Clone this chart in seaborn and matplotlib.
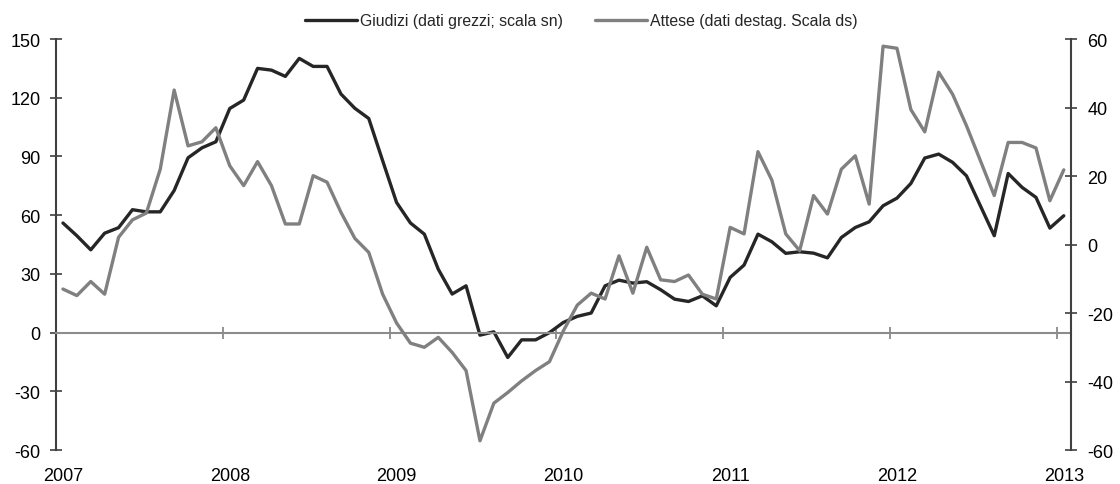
import numpy as np
import pandas as pd
import seaborn as sns
import matplotlib.pyplot as plt

# monthly series, Jan 2007 - Jan 2013
anni = ["2007", "2008", "2009", "2010", "2011", "2012", "2013"]
giudizi = [56, 49.5, 42.3, 50.8, 53.6, 62.8, 61.7, 61.7, 72.6, 89.3, 94.4, 97.5,
           114.5, 118.8, 135, 134.1, 130.9, 140.1, 136, 136, 121.9, 114.6, 109.4, 87.8,
           66.5, 56, 50.3, 32.4, 19.7, 23.9, -1.3, 0.4, -12.7, -3.7, -3.7, 0,
           5.2, 8.3, 10, 23.9, 26.8, 25.3, 26, 21.9, 17.1, 15.9, 18.8, 13.7,
           28.2, 34.5, 50.3, 46.4, 40.5, 41.3, 40.6, 38.2, 48.6, 53.7, 56.6, 64.8,
           68.7, 76.2, 89.2, 91.2, 87, 80.1, 64.8, 49.5, 81.3, 74.2, 69.1, 53.4,
           59.7]
attese = [-13, -14.9, -10.8, -14.5, 2.1, 7.2, 9.2, 22, 45.1, 28.8, 30, 34.1,
          23, 17.2, 24.2, 17.2, 6, 6, 20.1, 18.2, 9.4, 1.8, -2.3, -14.5,
          -22.9, -28.8, -30, -27.1, -31.5, -36.8, -57.3, -46.3, -43.2, -39.8, -36.8, -34.2,
          -25.2, -17.7, -14.2, -15.9, -3.3, -14.2, -0.8, -10.3, -10.8, -8.9, -14.5, -15.9,
          5, 3.1, 27.1, 18.8, 3.1, -1.8, 14.3, 8.9, 22, 25.9, 11.8, 57.9,
          57.3, 39.4, 32.9, 50.3, 43.9, 34.7, 24.5, 14.3, 29.8, 29.8, 28.2, 12.8,
          21.8]
lab_g = "Giudizi (dati grezzi; scala sn)"
lab_a = "Attese (dati destag. Scala ds)"

mesi = pd.period_range("2007-01", periods=len(giudizi), freq="M")
# category axis like the original: each month sits in the middle of its slot
df = pd.DataFrame({"mese": mesi.astype(str),
                   "pos": np.arange(len(mesi)) + 0.5,
                   "giudizi": giudizi, "attese": attese})

sns.set_theme(style="ticks")
plt.rcParams["font.family"] = ["Liberation Sans", "DejaVu Sans"]
plt.rcParams["axes.unicode_minus"] = False

fig, ax = plt.subplots(figsize=(11.2, 4.85), dpi=100)
fig.subplots_adjust(left=0.05, right=0.956, top=0.9175, bottom=0.07)
ax2 = ax.twinx()

sns.lineplot(data=df, x="pos", y="giudizi", ax=ax, color="#262626", lw=2.4, legend=False)
sns.lineplot(data=df, x="pos", y="attese", ax=ax2, color="#808080", lw=2.4, legend=False)

ax.set_xlim(0, len(mesi))
ax.set_ylim(-60, 150)
ax.set_yticks(range(-60, 151, 30))
ax2.set_ylim(-60, 60)
ax2.set_yticks(range(-60, 61, 20))
for a in (ax, ax2):
    a.set_xlabel("")
    a.set_ylabel("")

# year ticks on the zero line, labels at the bottom
ax.set_xticks(np.arange(0, len(mesi), 12))
ax.set_xticklabels([])
ax.set_xticks(np.arange(0, len(mesi), 12) + 0.5, minor=True)
ax.set_xticklabels(anni, minor=True)
ax.tick_params(axis="x", which="major", bottom=True, direction="inout",
               length=8.5, width=1.2, color="#808080")
ax.tick_params(axis="x", which="minor", bottom=True, length=0, pad=97,
               labelsize=13, labelcolor="black")

ax.spines["top"].set_visible(False)
ax.spines["right"].set_visible(False)
ax.spines["bottom"].set_position(("data", 0))
ax.spines["bottom"].set_color("#8c8c8c")
ax.spines["bottom"].set_linewidth(1.5)
ax.spines["left"].set_color("#404040")
ax.spines["left"].set_linewidth(1.5)
ax.tick_params(axis="y", left=True, direction="inout", length=8, width=1.2,
               color="#404040", pad=7, labelsize=13, labelcolor="black")

for s in ("top", "bottom", "left"):
    ax2.spines[s].set_visible(False)
ax2.spines["right"].set_color("#404040")
ax2.spines["right"].set_linewidth(1.5)
ax2.tick_params(axis="y", right=True, direction="inout", length=8, width=1.2,
                color="#404040", pad=8, labelsize=13, labelcolor="black")

handles = [ax.get_lines()[0], ax2.get_lines()[0]]
fig.legend(handles, [lab_g, lab_a], loc="center", bbox_to_anchor=(0.519, 0.955),
           ncol=2, frameon=False, fontsize=11.4, handlelength=3.3,
           handletextpad=0.2, columnspacing=2.0)

plt.savefig("out.png", dpi=100)
